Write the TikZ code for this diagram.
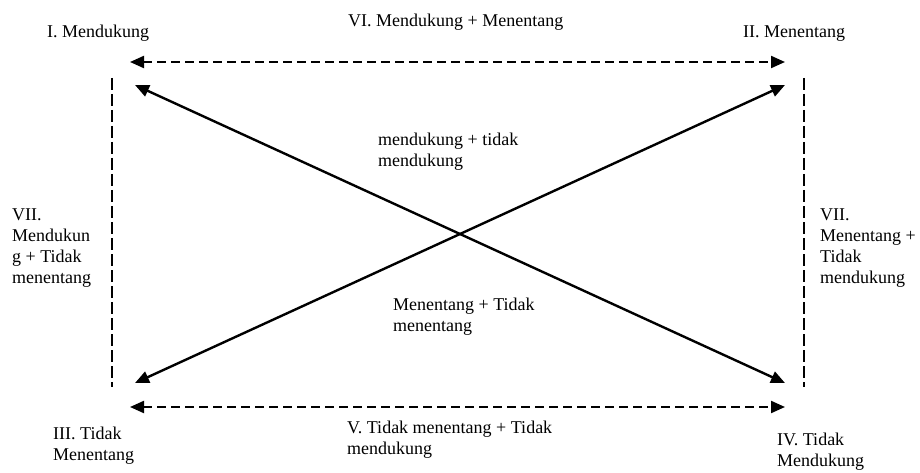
\documentclass[tikz,border=0pt]{standalone}
\usepackage{fontspec}
\setmainfont{Liberation Serif}
\usetikzlibrary{arrows.meta}
\begin{document}
\begin{tikzpicture}[x=1pt,y=-1pt,
  % base west of a multi-line label sits on its last line
  lbl/.style={inner sep=0pt, anchor=base west, align=left,
    font=\fontsize{18}{21}\selectfont},
  diag/.style={line width=2.4pt, {Triangle[length=14pt,width=12pt]}-{Triangle[length=14pt,width=12pt]}},
  pairarrow/.style={line width=2.1pt, dash pattern=on 9pt off 5pt,
    {Triangle[length=14pt,width=12pt]}-{Triangle[length=14pt,width=12pt]}},
  sideline/.style={line width=2.1pt, dash pattern=on 12pt off 4pt}]
\useasboundingbox (0,0) rectangle (920,473);

% corner labels
\node[lbl] (sup)  at (47,38)  {I. Mendukung};
\node[lbl] (opp)  at (743,38) {II. Menentang};
\node[lbl] (nopp) at (53,460) {III. Tidak\\Menentang};
\node[lbl] (nsup) at (777,466) {IV. Tidak\\Mendukung};

% side and centre labels
\node[lbl] (topmid) at (348,27)  {VI. Mendukung + Menentang};
\node[lbl] (botmid) at (347,454) {V. Tidak menentang + Tidak\\mendukung};
\node[lbl] (left)   at (12,283)  {VII.\\Mendukun\\g + Tidak\\menentang};
\node[lbl] (right)  at (820,283) {VII.\\Menentang +\\Tidak\\mendukung};
\node[lbl] (upper)  at (378,167) {mendukung + tidak\\mendukung};
\node[lbl] (lower)  at (393,331) {Menentang + Tidak\\menentang};

% arrow end points
\coordinate (tl) at (135,85);
\coordinate (tr) at (785,85);
\coordinate (bl) at (135,383);
\coordinate (br) at (785,383);
\coordinate (ht1) at (130,62);
\coordinate (ht2) at (785,62);
\coordinate (hb1) at (130,407);
\coordinate (hb2) at (785,407);
\coordinate (vl1) at (112,78);
\coordinate (vl2) at (112,387);
\coordinate (vr1) at (804,78);
\coordinate (vr2) at (804,387);

% diagonals
\draw[diag] (tl) -- (br);
\draw[diag] (bl) -- (tr);

% horizontal dashed arrows
\draw[pairarrow] (ht1) -- (ht2);
\draw[pairarrow] (hb1) -- (hb2);

% vertical dashed boundaries
\draw[sideline] (vl1) -- (vl2);
\draw[sideline] (vr1) -- (vr2);
\end{tikzpicture}
\end{document}
